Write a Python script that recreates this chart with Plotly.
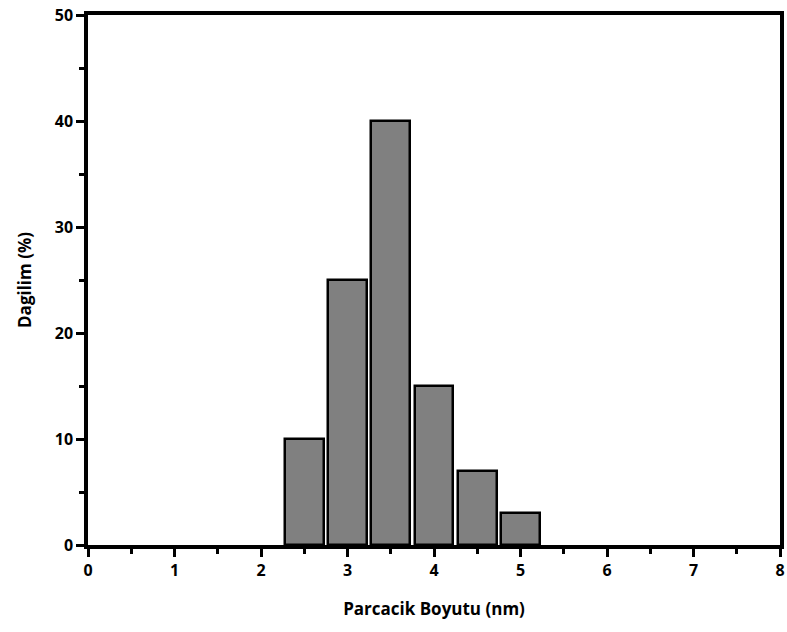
import plotly.graph_objects as go

sizes = [2.5, 3.0, 3.5, 4.0, 4.5, 5.0]
percent = [10, 25, 40, 15, 7, 3]
x_ticks = [0, 1, 2, 3, 4, 5, 6, 7, 8]
y_ticks = [0, 10, 20, 30, 40, 50]

font_family = "Comic Sans MS, Open Sans, DejaVu Sans, sans-serif"

fig = go.Figure()
fig.add_trace(go.Bar(
    x=sizes, y=percent, width=0.45,
    marker=dict(color="#808080", line=dict(color="black", width=2.5)),
))

axis_common = dict(
    showline=True, linecolor="black", linewidth=3.5, mirror=True,
    ticks="outside", tickcolor="black", tickwidth=3, ticklen=8,
    showgrid=False, zeroline=False,
    tickfont=dict(family=font_family, size=16, color="black", weight="bold"),
)

fig.update_layout(
    width=787, height=632,
    margin=dict(l=88, r=3, t=15, b=87),
    paper_bgcolor="white", plot_bgcolor="white",
    showlegend=False,
    bargap=0,
    xaxis=dict(
        range=[0, 8], tickvals=x_ticks, ticktext=[str(v) for v in x_ticks],
        minor=dict(dtick=0.5, tick0=0, ticks="outside", ticklen=5, tickwidth=3, tickcolor="black"),
        title=dict(text="Parcacik Boyutu (nm)", standoff=24,
                   font=dict(family=font_family, size=17, color="black", weight="bold")),
        **axis_common,
    ),
    yaxis=dict(
        range=[0, 50], tickvals=y_ticks, ticktext=[str(v) for v in y_ticks],
        minor=dict(dtick=5, tick0=0, ticks="outside", ticklen=5, tickwidth=3, tickcolor="black"),
        title=dict(text="Dagilim (%)", standoff=20,
                   font=dict(family=font_family, size=17, color="black", weight="bold")),
        **axis_common,
    ),
)

fig.write_html("out.html")
